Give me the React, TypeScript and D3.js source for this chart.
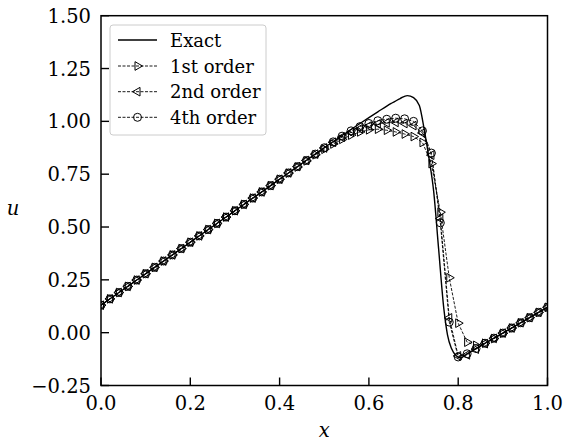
import React from "react";
import * as d3 from "d3";

const xGrid = [
  0, 0.02, 0.04, 0.06, 0.08, 0.1, 0.12, 0.14, 0.16, 0.18,
  0.2, 0.22, 0.24, 0.26, 0.28, 0.3, 0.32, 0.34, 0.36, 0.38,
  0.4, 0.42, 0.44, 0.46, 0.48, 0.5, 0.52, 0.54, 0.56, 0.58,
  0.6, 0.62, 0.64, 0.66, 0.68, 0.7, 0.72, 0.74, 0.76, 0.78,
  0.8, 0.82, 0.84, 0.86, 0.88, 0.9, 0.92, 0.94, 0.96, 0.98, 1.0,
];

const firstOrder = [
  0.13, 0.16, 0.19, 0.219, 0.249, 0.279, 0.309, 0.339, 0.368, 0.398,
  0.428, 0.458, 0.488, 0.517, 0.547, 0.577, 0.607, 0.637, 0.666, 0.696,
  0.726, 0.755, 0.784, 0.813, 0.842, 0.868, 0.893, 0.915, 0.935, 0.95,
  0.96, 0.963, 0.958, 0.95, 0.94, 0.928, 0.9, 0.8, 0.57, 0.26,
  0.045, -0.045, -0.06, -0.05, -0.028, -0.003, 0.022, 0.047, 0.071, 0.096, 0.12,
];

const secondOrder = [
  0.13, 0.16, 0.19, 0.219, 0.249, 0.279, 0.309, 0.339, 0.368, 0.398,
  0.428, 0.458, 0.488, 0.517, 0.547, 0.577, 0.607, 0.637, 0.666, 0.696,
  0.726, 0.756, 0.786, 0.815, 0.845, 0.874, 0.901, 0.925, 0.948, 0.965,
  0.978, 0.988, 0.993, 0.995, 0.99, 0.98, 0.945, 0.84, 0.54, 0.07,
  -0.11, -0.105, -0.078, -0.052, -0.027, -0.002, 0.022, 0.047, 0.071, 0.096, 0.12,
];

const fourthOrder = [
  0.13, 0.16, 0.19, 0.219, 0.249, 0.279, 0.309, 0.339, 0.368, 0.398,
  0.428, 0.458, 0.488, 0.517, 0.547, 0.577, 0.607, 0.637, 0.666, 0.696,
  0.726, 0.756, 0.786, 0.815, 0.845, 0.875, 0.903, 0.93, 0.955, 0.975,
  0.99, 1.003, 1.01, 1.015, 1.012, 1.0, 0.955, 0.85, 0.52, 0.05,
  -0.115, -0.1, -0.075, -0.05, -0.026, -0.002, 0.022, 0.047, 0.071, 0.096, 0.12,
];

const exactX = [
  0, 0.1, 0.2, 0.3, 0.4, 0.5, 0.54, 0.58, 0.62, 0.65, 0.67, 0.686, 0.7,
  0.713, 0.724, 0.735, 0.745, 0.756, 0.768, 0.776, 0.785, 0.795, 0.805,
  0.82, 0.86, 0.9, 0.95, 1.0,
];
const exactU = [
  0.13, 0.279, 0.428, 0.577, 0.726, 0.875, 0.933, 0.99, 1.045, 1.085, 1.108, 1.122, 1.112,
  1.075, 0.96, 0.82, 0.67, 0.4, 0.11, -0.01, -0.075, -0.108, -0.12,
  -0.1, -0.05, -0.002, 0.059, 0.12,
];

const xTicks = [0, 0.2, 0.4, 0.6, 0.8, 1.0];
const yTicks = [-0.25, 0, 0.25, 0.5, 0.75, 1.0, 1.25, 1.5];
const legendLabels = ["Exact", "1st order", "2nd order", "4th order"];

const W = 564;
const H = 441;
const L = 101;
const R = 547.5;
const T = 15.7;
const B = 385.5;
const FONT = "'DejaVu Serif', serif";
const FS = 19.5;
const LFS = 18;

function fmtY(v: number) {
  const s = Math.abs(v).toFixed(2);
  return v < 0 ? "\u2212" + s : s;
}

function Marker({ kind, x, y }: { kind: string; x: number; y: number }) {
  const r = 5;
  if (kind === "circle") {
    return <circle cx={x} cy={y} r={4} fill="none" stroke="#000" strokeWidth={1} />;
  }
  const dir = kind === "right" ? 1 : -1;
  const pts = [
    [x + dir * r, y],
    [x - dir * r * 0.5, y - r * 0.866],
    [x - dir * r * 0.5, y + r * 0.866],
  ];
  return (
    <polygon
      points={pts.map((p) => p.join(",")).join(" ")}
      fill="none"
      stroke="#000"
      strokeWidth={1}
    />
  );
}

export default function App() {
  const xs = d3.scaleLinear().domain([0, 1]).range([L, R]);
  const ys = d3.scaleLinear().domain([-0.25, 1.5]).range([B, T]);

  const exactLine = d3
    .line<number>()
    .x((_, i) => xs(exactX[i]))
    .y((d) => ys(d))
    .curve(d3.curveMonotoneX);

  const numLine = d3
    .line<number>()
    .x((_, i) => xs(xGrid[i]))
    .y((d) => ys(d));

  const series = [
    { data: firstOrder, kind: "right" },
    { data: secondOrder, kind: "left" },
    { data: fourthOrder, kind: "circle" },
  ];

  const legX = 110;
  const legY = 25;
  const legW = 156;
  const legH = 110;
  const rowY = [40, 66, 91.7, 117.3];

  return (
    <svg
      width={W}
      height={H}
      style={{ position: "absolute", left: 0, top: 0, background: "#fff" }}
      fontFamily={FONT}
    >
      <rect x={0} y={0} width={W} height={H} fill="#fff" />
      <defs>
        <clipPath id="plotclip">
          <rect x={L} y={T} width={R - L} height={B - T} />
        </clipPath>
      </defs>
      <g clipPath="url(#plotclip)">
        <path
          d={exactLine(exactU) || ""}
          fill="none"
          stroke="#000"
          strokeWidth={1.4}
        />
        {series.map((s, si) => (
          <g key={si}>
            <path
              d={numLine(s.data) || ""}
              fill="none"
              stroke="#000"
              strokeWidth={0.9}
              strokeDasharray="3,1.5"
            />
            {s.data.map((v, i) => (
              <Marker key={i} kind={s.kind} x={xs(xGrid[i])} y={ys(v)} />
            ))}
          </g>
        ))}
      </g>

      <rect x={L} y={T} width={R - L} height={B - T} fill="none" stroke="#000" strokeWidth={1.5} />

      {xTicks.map((t) => (
        <g key={"x" + t}>
          <line x1={xs(t)} x2={xs(t)} y1={B} y2={B - 8} stroke="#000" strokeWidth={1.4} />
          <text x={xs(t)} y={410} textAnchor="middle" fontSize={FS} fill="#000">
            {t.toFixed(1)}
          </text>
        </g>
      ))}
      {yTicks.map((t) => (
        <g key={"y" + t}>
          <line x1={L} x2={L + 8} y1={ys(t)} y2={ys(t)} stroke="#000" strokeWidth={1.4} />
          <text x={91} y={ys(t) + 7} textAnchor="end" fontSize={FS} fill="#000">
            {fmtY(t)}
          </text>
        </g>
      ))}

      <text x={(L + R) / 2} y={437} textAnchor="middle" fontSize={FS} fontStyle="italic" fill="#000">
        x
      </text>
      <text x={13} y={215} textAnchor="middle" fontSize={FS} fontStyle="italic" fill="#000">
        u
      </text>

      <rect
        x={legX}
        y={legY}
        width={legW}
        height={legH}
        rx={3}
        fill="#fff"
        fillOpacity={0.8}
        stroke="#ccc"
        strokeWidth={1}
      />
      {legendLabels.map((lab, i) => (
        <g key={lab}>
          {i === 0 ? (
            <line x1={118} x2={157} y1={rowY[i]} y2={rowY[i]} stroke="#000" strokeWidth={1.4} />
          ) : (
            <>
              <line
                x1={118}
                x2={157}
                y1={rowY[i]}
                y2={rowY[i]}
                stroke="#000"
                strokeWidth={0.9}
                strokeDasharray="3,1.5"
              />
              <Marker kind={series[i - 1].kind} x={137.5} y={rowY[i]} />
            </>
          )}
          <text x={170} y={rowY[i] + 6.5} fontSize={LFS} fill="#000">
            {lab}
          </text>
        </g>
      ))}
    </svg>
  );
}
